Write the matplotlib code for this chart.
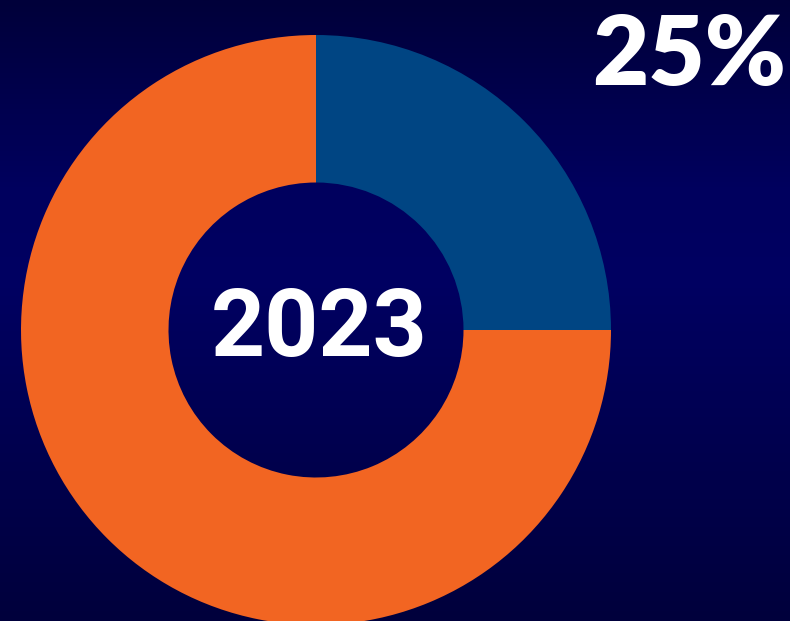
import numpy as np
import matplotlib
matplotlib.use("Agg")
import matplotlib.pyplot as plt
from matplotlib.colors import LinearSegmentedColormap

# data
labels = ["Share", "Rest"]
values = [25, 75]
colors = ["#004583", "#F26522"]
year_label = "2023"
pct_label = "25%"

W, H = 790, 621
fig = plt.figure(figsize=(W / 100, H / 100), dpi=100)

# background gradient (dark navy, lighter band in the middle)
bg = fig.add_axes([0, 0, 1, 1])
bg_cmap = LinearSegmentedColormap.from_list(
    "bg", [(0, "#00003A"), (0.3, "#00005E"), (0.45, "#000062"),
           (0.7, "#000050"), (1, "#00003C")])
grad = np.linspace(0, 1, 256).reshape(-1, 1)
bg.imshow(grad, aspect="auto", cmap=bg_cmap, extent=[0, 1, 0, 1])
bg.set_axis_off()

# donut: centre ~(316, 330) px, outer radius ~295 px
cx, cy, r = 316, 330, 295
ax = fig.add_axes([(cx - r) / W, (H - cy - r) / H, 2 * r / W, 2 * r / H])
ax.pie(values, colors=colors, startangle=90, counterclock=False,
       wedgeprops=dict(width=0.5, edgecolor="none"))
ax.set_xlim(-1, 1)
ax.set_ylim(-1, 1)
ax.set_aspect("equal")
ax.set_axis_off()

ax.text(0.01, 0, year_label, ha="center", va="center", color="white",
        fontsize=68, fontweight="bold", family="Roboto")

fig.text(689 / W, 1 - 56 / H, pct_label, ha="center", va="center",
         color="white", fontsize=70, fontweight="heavy", family="Lato")

fig.savefig("out.png", dpi=100)
